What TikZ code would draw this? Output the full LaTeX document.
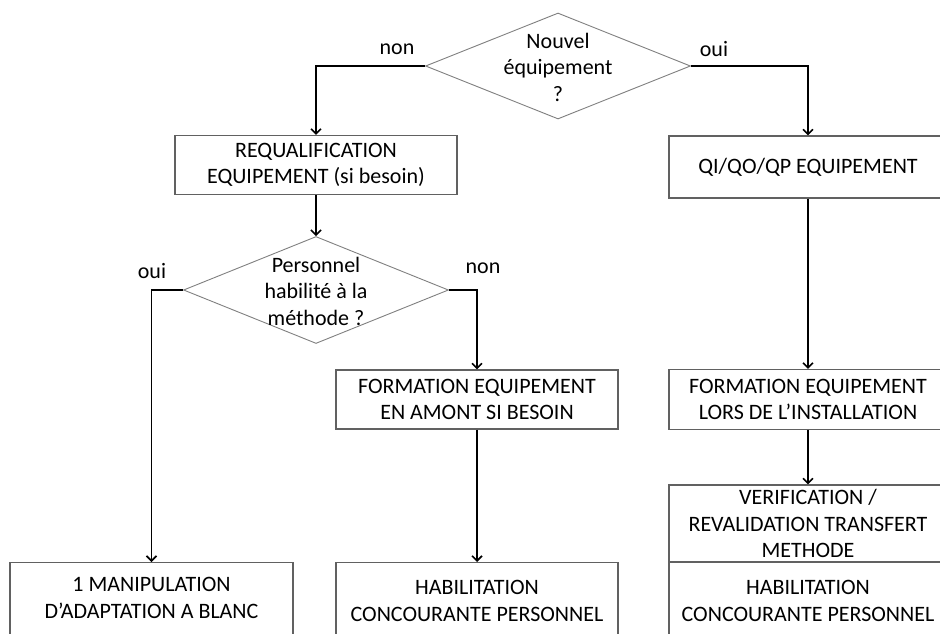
\documentclass[tikz,border=0pt]{standalone}
\usepackage{fontspec}
\setmainfont{Carlito}
\usetikzlibrary{shapes.geometric,arrows.meta}
\begin{document}
\begin{tikzpicture}[x=1pt,y=-1pt,
  every node/.style={font=\fontsize{22}{26.5}\selectfont, text=black},
  box/.style={draw=black!62, line width=1.1pt, rectangle, inner sep=0pt, align=center},
  dia/.style={draw=black!50, line width=0.9pt, diamond, inner sep=0pt, minimum width=265, minimum height=106},
  txt/.style={align=center, inner sep=0pt},
  lbl/.style={inner sep=0pt},
  arr/.style={draw=black, line width=1.8pt, -{Straight Barb[length=5pt,width=10pt,line width=1.6pt]}}]
\clip (0,0) rectangle (940,634);
\fill[white] (0,0) rectangle (940,634);
% top decision
\node[dia] (d1) at (558,66) {};
\node[txt] (d1t) at (558,67) {Nouvel\\équipement\\?};
% left branch
\node[box, minimum width=282, minimum height=59] (req) at (316,165) {REQUALIFICATION\\EQUIPEMENT (si besoin)};
\node[dia, minimum height=107] (d2) at (316,290) {};
\node[txt] (d2t) at (316,291) {Personnel\\habilité à la\\méthode ?};
\node[box, minimum width=283, minimum height=90, anchor=north] (man) at (151.5,562) {};
\node[txt] (mant) at (151.5,598) {1 MANIPULATION\\D’ADAPTATION A BLANC};
\node[box, minimum width=282, minimum height=59] (fam) at (477,399.5) {FORMATION EQUIPEMENT\\EN AMONT SI BESOIN};
\node[box, minimum width=282, minimum height=90, anchor=north] (hab2) at (477,562) {};
\node[txt] (hab2t) at (477,601) {HABILITATION\\CONCOURANTE PERSONNEL};
% right branch
\node[box, minimum width=278, minimum height=62] (qi) at (808,167) {QI/QO/QP EQUIPEMENT};
\node[box, minimum width=278, minimum height=60] (fi) at (808,399.5) {FORMATION EQUIPEMENT\\LORS DE L’INSTALLATION};
\node[box, minimum width=278, minimum height=77] (ver) at (808,523.5) {VERIFICATION /\\REVALIDATION TRANSFERT\\METHODE};
\node[box, minimum width=278, minimum height=90, anchor=north] (hab3) at (808,562) {};
\node[txt] (hab3t) at (808,601) {HABILITATION\\CONCOURANTE PERSONNEL};
% connectors
\draw[arr] (d1.west) -| (req.north);
\draw[arr] (d1.east) -| (qi.north);
\draw[arr] (req.south) -- (d2.north);
\draw[arr] (d2.west) -| (man.north);
\draw[arr] (d2.east) -| (fam.north);
\draw[arr] (fam.south) -- (hab2.north);
\draw[arr] (qi.south) -- (fi.north);
\draw[arr] (fi.south) -- (ver.north);
% labels
\node[lbl] (lnon1) at (397,49) {non};
\node[lbl] (loui1) at (714,49) {oui};
\node[lbl] (loui2) at (152,271) {oui};
\node[lbl] (lnon2) at (483,268) {non};
\end{tikzpicture}
\end{document}
